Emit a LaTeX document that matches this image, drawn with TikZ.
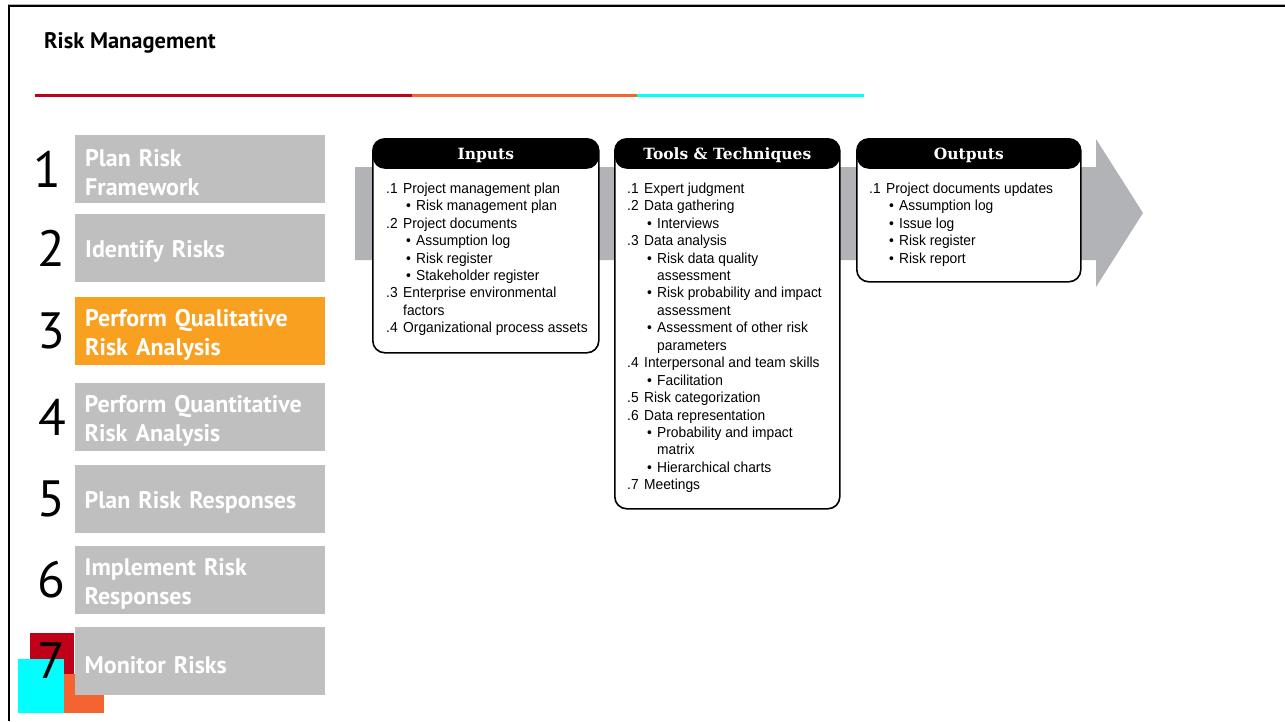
\documentclass[tikz,border=0pt]{standalone}
\usepackage{fontspec}
\setmainfont{Liberation Sans}
\newfontfamily\dinfont{PT Sans}
\newfontfamily\numfont{PT Sans}
\newfontfamily\bodyfont[FakeStretch=0.95]{Liberation Sans}
\newfontfamily\headfont{DejaVu Serif}
\definecolor{stepgray}{HTML}{BFBFBF}
\definecolor{steporange}{HTML}{F9A021}
\definecolor{arrowgray}{HTML}{B1B3B6}
\definecolor{linered}{HTML}{C00018}
\definecolor{lineorange}{HTML}{F26531}
\definecolor{linecyan}{HTML}{00FFFF}
\newcommand\numitem[2]{\makebox[17pt][l]{#1}#2}
\newcommand\bulitem[1]{\hspace*{20pt}\makebox[10pt][l]{\textbullet}#1}
\newcommand\numcont[1]{\hspace*{17pt}#1}
\newcommand\bulcont[1]{\hspace*{30pt}#1}
\begin{document}
\begin{tikzpicture}[x=1pt,y=-1pt,
  stepbox/.style={draw=none,fill=stepgray,anchor=north west,minimum width=250pt,minimum height=68pt,
    text width=230pt,inner xsep=10pt,inner ysep=0pt,align=left,text=white,
    execute at begin node={\rule{0pt}{24pt}},
    font=\dinfont\bfseries\fontsize{24}{29}\selectfont},
  stepnum/.style={inner sep=0pt,font=\numfont\fontsize{51}{51}\selectfont},
  panel/.style={draw=black,line width=1.6pt,fill=white,rounded corners=12pt,anchor=north west,inner sep=0pt,
    path picture={\fill[black] (path picture bounding box.north west) rectangle ([yshift=-30pt]path picture bounding box.north east);}},
  panelhead/.style={inner sep=0pt,text=white,font=\headfont\bfseries\fontsize{15.5}{15.5}\selectfont},
  listtext/.style={inner sep=0pt,anchor=north west,align=left,font=\bodyfont\fontsize{14.5}{17.45}\selectfont},
  bar/.style={line width=3pt}
]
\useasboundingbox (0,0) rectangle (1285,721);
\fill[white] (0,0) rectangle (1285,721);
% frame
\draw[gray!60,line width=1pt] (8,4.3) -- (1285,4.3);
\draw[black,line width=2.4pt] (8,6.2) -- (1285,6.2);
\draw[black,line width=2.5pt] (8.8,5) -- (8.8,721);
% title
\node[anchor=west,inner sep=0pt,font=\dinfont\bfseries\fontsize{22.5}{23}\selectfont] (title) at (44,43) {Risk Management};
% coloured rule
\draw[bar,linered] (35,95.8) -- (412,95.8);
\draw[bar,lineorange] (412,95.8) -- (637,95.8);
\draw[bar,linecyan] (637,95.8) -- (864,95.8);
% corner squares
\fill[linered] (30,633) rectangle (74,680);
\fill[lineorange] (64,674) rectangle (104,713);
\fill[linecyan] (18,659) rectangle (64,713);
% steps
\node[stepbox] (s1) at (75,135) {Plan Risk\\Framework};
\node[stepbox] (s2) at (75,214) {Identify Risks};
\node[stepbox,fill=steporange] (s3) at (75,297) {Perform Qualitative\\Risk Analysis};
\node[stepbox] (s4) at (74.5,383) {Perform Quantitative\\Risk Analysis};
\node[stepbox] (s5) at (74.5,465) {Plan Risk Responses};
\node[stepbox] (s6) at (74.5,546) {Implement Risk\\Responses};
\node[stepbox] (s7) at (74.5,627) {Monitor Risks};
\node[stepnum] (n1) at (47,169) {1};
\node[stepnum] (n2) at (51,248) {2};
\node[stepnum] (n3) at (51,331) {3};
\node[stepnum] (n4) at (52,417) {4};
\node[stepnum] (n5) at (51,499) {5};
\node[stepnum] (n6) at (51,580) {6};
\node[stepnum] (n7) at (51,661) {7};
% big arrow
\fill[arrowgray] (355,167) -- (1096,167) -- (1096,139) -- (1143,213) -- (1096,287) -- (1096,260) -- (355,260) -- cycle;
% panels
\node[panel,minimum width=226pt,minimum height=214pt] (inputs) at (372,138) {};
\node[panel,minimum width=225pt,minimum height=370pt] (tools) at (614,138) {};
\node[panel,minimum width=224pt,minimum height=143pt] (outputs) at (856,138) {};
\node[panelhead] (hin) at ([yshift=-17.5pt]inputs.north) {Inputs};
\node[panelhead] (htools) at ([yshift=-17.5pt]tools.north) {Tools \& Techniques};
\node[panelhead] (hout) at ([yshift=-17.5pt]outputs.north) {Outputs};
\node[listtext] (inlist) at (386,182.5) {%
\numitem{.1}{Project management plan}\\
\bulitem{Risk management plan}\\
\numitem{.2}{Project documents}\\
\bulitem{Assumption log}\\
\bulitem{Risk register}\\
\bulitem{Stakeholder register}\\
\numitem{.3}{Enterprise environmental}\\
\numcont{factors}\\
\numitem{.4}{Organizational process assets}};
\node[listtext] (toollist) at (627,182.5) {%
\numitem{.1}{Expert judgment}\\
\numitem{.2}{Data gathering}\\
\bulitem{Interviews}\\
\numitem{.3}{Data analysis}\\
\bulitem{Risk data quality}\\
\bulcont{assessment}\\
\bulitem{Risk probability and impact}\\
\bulcont{assessment}\\
\bulitem{Assessment of other risk}\\
\bulcont{parameters}\\
\numitem{.4}{Interpersonal and team skills}\\
\bulitem{Facilitation}\\
\numitem{.5}{Risk categorization}\\
\numitem{.6}{Data representation}\\
\bulitem{Probability and impact}\\
\bulcont{matrix}\\
\bulitem{Hierarchical charts}\\
\numitem{.7}{Meetings}};
\node[listtext] (outlist) at (869,182.5) {%
\numitem{.1}{Project documents updates}\\
\bulitem{Assumption log}\\
\bulitem{Issue log}\\
\bulitem{Risk register}\\
\bulitem{Risk report}};
\end{tikzpicture}
\end{document}
